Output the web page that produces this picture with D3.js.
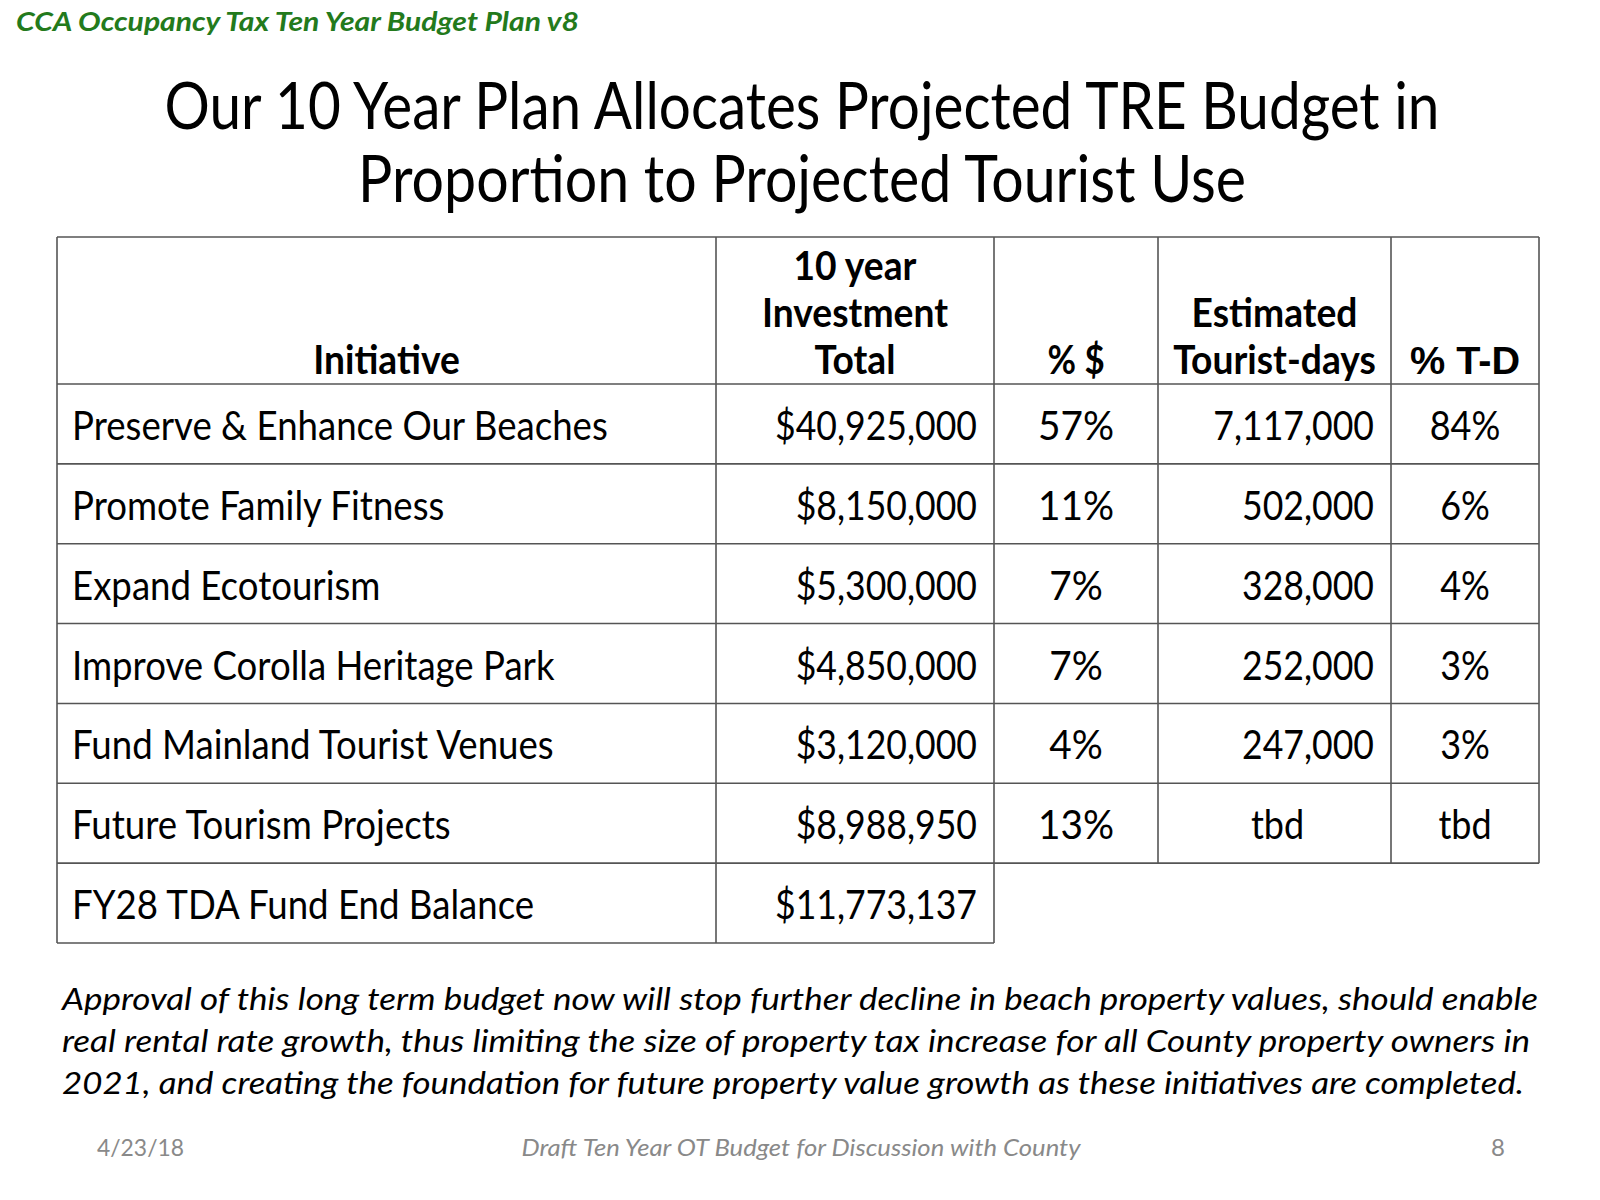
<!DOCTYPE html>
<html>
<head>
<meta charset="utf-8">
<script src="https://cdn.jsdelivr.net/npm/d3@7"></script>
<style>
  body { margin: 0; background: #fff; }
  svg { display: block; font-family: Lato, 'Open Sans', sans-serif; }
</style>
</head>
<body>
<svg width="1600" height="1200"></svg>
<script>
// table data
const initiatives = [
  'Preserve & Enhance Our Beaches',
  'Promote Family Fitness',
  'Expand Ecotourism',
  'Improve Corolla Heritage Park',
  'Fund Mainland Tourist Venues',
  'Future Tourism Projects',
  'FY28 TDA Fund End Balance'
];
const investment = [40925000, 8150000, 5300000, 4850000, 3120000, 8988950, 11773137];
const pctDollars = [57, 11, 7, 7, 4, 13, null];
const touristDays = [7117000, 502000, 328000, 252000, 247000, null, null];
const pctTouristDays = [84, 6, 4, 3, 3, null, null];

const headers = [
  ['Initiative'],
  ['10 year', 'Investment', 'Total'],
  ['% $'],
  ['Estimated', 'Tourist-days'],
  ['% T-D']
];

const titleLines = ['Our 10 Year Plan Allocates Projected TRE Budget in', 'Proportion to Projected Tourist Use'];

const paragraph = [
  'Approval of this long term budget now will stop further decline in beach property values, should enable',
  'real rental rate growth, thus limiting the size of property tax increase for all County property owners in',
  '2021, and creating the foundation for future property value growth as these initiatives are completed.'
];

const svg = d3.select('svg');
const squeeze = 0.87;   // Lato is wider than the original Calibri

// squash text horizontally so widths look like the original
function narrow(sel, k) {
  sel.each(function() {
    let len = this.getComputedTextLength();
    d3.select(this).attr('textLength', len * (k || squeeze)).attr('lengthAdjust', 'spacingAndGlyphs');
  });
}
function fixWidth(sel, w) {
  sel.attr('textLength', w).attr('lengthAdjust', 'spacingAndGlyphs');
}

// top label
svg.append('text')
    .attr('x', 16).attr('y', 31)
    .style('font-size', '27px').style('font-weight', 'bold').style('font-style', 'italic')
    .attr('fill', '#237a1c')
    .text('CCA Occupancy Tax Ten Year Budget Plan v8')
    .call(fixWidth, 563);

// title, scaled horizontally to the original width
const titleWidths = [1275, 888];
titleLines.forEach((t, i) => {
  let g = svg.append('g');
  let txt = g.append('text')
      .attr('text-anchor', 'middle')
      .style('font-size', '66px')
      .text(t);
  let k = titleWidths[i] / txt.node().getComputedTextLength();
  g.attr('transform', `translate(802, ${129 + i * 73}) scale(${k}, 1)`);
});

// table layout
const colEdges = [57, 716, 994, 1158, 1391, 1539];
const headTop = 237, headBottom = 384, tableBottom = 943;
const y = d3.scaleBand().domain(initiatives).range([headBottom, tableBottom]);

const grid = svg.append('g').attr('stroke', '#555').attr('stroke-width', 1.6);
const nFull = initiatives.length - 1;
const fullBottom = y(initiatives[nFull]);

// horizontal lines
grid.append('line').attr('x1', colEdges[0]).attr('x2', colEdges[5]).attr('y1', headTop).attr('y2', headTop);
grid.append('line').attr('x1', colEdges[0]).attr('x2', colEdges[5]).attr('y1', headBottom).attr('y2', headBottom);
grid.selectAll('line.row')
  .data(initiatives)
  .enter().append('line')
    .classed('row', true)
    .attr('x1', colEdges[0])
    .attr('x2', (d, i) => i < nFull ? colEdges[5] : colEdges[2])
    .attr('y1', d => y(d) + y.bandwidth())
    .attr('y2', d => y(d) + y.bandwidth());

// vertical lines
colEdges.forEach((x, i) => {
  grid.append('line')
      .attr('x1', x).attr('x2', x)
      .attr('y1', headTop)
      .attr('y2', i <= 2 ? tableBottom : fullBottom);
});

// header text
const headBase = [280, 327, 374];
const hdr = svg.append('g').style('font-weight', 'bold').style('font-size', '40px');
headers.forEach((lines, c) => {
  let cx = (colEdges[c] + colEdges[c + 1]) / 2;
  lines.forEach((t, j) => {
    let txt = hdr.append('text')
        .attr('x', cx)
        .attr('y', headBase[3 - lines.length + j])
        .attr('text-anchor', 'middle')
        .text(t);
    if (t === '% T-D') {
      txt.style('font-family', "'Liberation Sans', Arial, sans-serif").style('font-size', '39px');
      txt.call(fixWidth, 110);
    } else if (t === '% $') {
      txt.call(narrow);
    } else {
      txt.call(narrow, 0.93);
    }
  });
});

// body cells
const fmtMoney = d3.format('$,.0f');
const fmtNum = d3.format(',.0f');
const body = svg.append('g').style('font-size', '40px').attr('fill', '#000');
const rowBase = d => y(d) + y.bandwidth() / 2 + 16;

initiatives.forEach((name, i) => {
  let by = rowBase(name);
  body.append('text').attr('x', colEdges[0] + 15).attr('y', by).text(name).call(narrow, 0.915);
  body.append('text').attr('x', colEdges[2] - 17).attr('y', by)
      .attr('text-anchor', 'end').text(fmtMoney(investment[i])).call(narrow, 0.89);
  if (i < nFull) {
    let c2 = (colEdges[2] + colEdges[3]) / 2;
    let c3 = (colEdges[3] + colEdges[4]) / 2;
    let c4 = (colEdges[4] + colEdges[5]) / 2;
    body.append('text').attr('x', c2).attr('y', by).attr('text-anchor', 'middle')
        .text(pctDollars[i] + '%').call(narrow, 0.97);
    if (touristDays[i] != null) {
      body.append('text').attr('x', colEdges[4] - 17).attr('y', by).attr('text-anchor', 'end')
          .text(fmtNum(touristDays[i])).call(narrow, 0.89);
    } else {
      body.append('text').attr('x', c3 + 3).attr('y', by).attr('text-anchor', 'middle').text('tbd').call(narrow, 0.9);
    }
    body.append('text').attr('x', c4).attr('y', by).attr('text-anchor', 'middle')
        .text(pctTouristDays[i] != null ? pctTouristDays[i] + '%' : 'tbd').call(narrow, 0.9);
  }
});

// note under the table
const paraWidths = [1476, 1468, 1462];
svg.append('g')
    .style('font-size', '31px').style('font-style', 'italic')
  .selectAll('text')
  .data(paragraph)
  .enter().append('text')
    .attr('x', 62)
    .attr('y', (d, i) => 1010 + i * 42)
    .attr('textLength', (d, i) => paraWidths[i])
    .attr('lengthAdjust', 'spacingAndGlyphs')
    .text(d => d);

// footer
const foot = svg.append('g').style('font-size', '24px').attr('fill', '#898989');
foot.append('text').attr('x', 97).attr('y', 1156).text('4/23/18').call(fixWidth, 87);
foot.append('text').attr('x', 801).attr('y', 1156).attr('text-anchor', 'middle')
    .style('font-style', 'italic').text('Draft Ten Year OT Budget for Discussion with County').call(fixWidth, 559);
foot.append('text').attr('x', 1505).attr('y', 1156).attr('text-anchor', 'end').text('8');
</script>
</body>
</html>
